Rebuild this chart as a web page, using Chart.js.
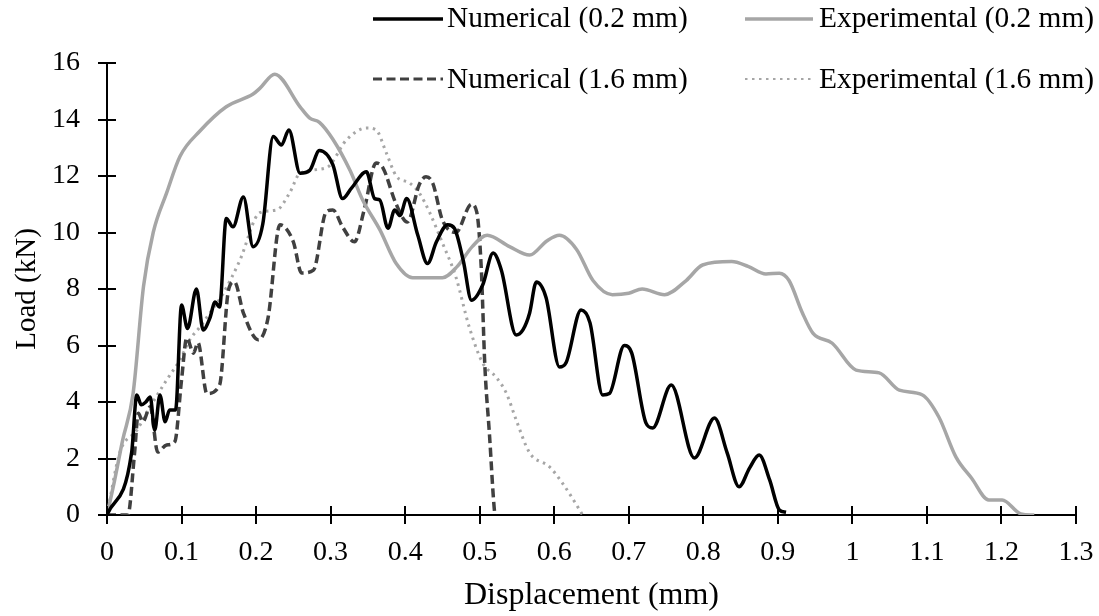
<!DOCTYPE html>
<html>
<head>
<meta charset="utf-8">
<script src="https://cdn.jsdelivr.net/npm/chart.js@4.4.1/dist/chart.umd.min.js"></script>
<style>
  html, body { margin: 0; padding: 0; background: #ffffff; }
  canvas { display: block; }
</style>
</head>
<body>
<canvas id="c" width="1099" height="616"></canvas>
<script>
// Load–displacement curves: numerical and experimental, for 0.2 mm and 1.6 mm
const seriesLabels = ['Numerical (0.2 mm)', 'Experimental (0.2 mm)', 'Numerical (1.6 mm)', 'Experimental (1.6 mm)'];

const numX02 = [0, 0.033, 0.04, 0.046, 0.052, 0.058, 0.064, 0.071, 0.078, 0.084, 0.092, 0.1, 0.108, 0.12, 0.129, 0.138, 0.145, 0.151, 0.16, 0.169, 0.183, 0.196, 0.209, 0.223, 0.234, 0.244, 0.259, 0.272, 0.285, 0.303, 0.316, 0.328, 0.348, 0.359, 0.366, 0.377, 0.386, 0.393, 0.402, 0.417, 0.43, 0.442, 0.457, 0.466, 0.478, 0.489, 0.504, 0.518, 0.529, 0.549, 0.558, 0.567, 0.576, 0.589, 0.607, 0.616, 0.636, 0.648, 0.665, 0.674, 0.694, 0.704, 0.723, 0.732, 0.757, 0.788, 0.815, 0.832, 0.848, 0.862, 0.875, 0.889, 0.902, 0.911];
const numY02 = [0, 2.2, 4.25, 3.9, 4.0, 4.18, 3.0, 4.25, 3.3, 3.72, 3.72, 7.43, 6.6, 8.0, 6.55, 6.97, 7.54, 7.36, 10.5, 10.2, 11.26, 9.5, 10.3, 13.4, 13.1, 13.63, 12.1, 12.2, 12.9, 12.4, 11.2, 11.57, 12.15, 11.2, 11.15, 10.15, 10.8, 10.6, 11.2, 9.9, 8.9, 9.67, 10.27, 10.15, 9.0, 7.6, 8.14, 9.27, 8.67, 6.37, 6.55, 7.15, 8.25, 7.7, 5.24, 5.4, 7.26, 6.8, 4.25, 4.3, 6.0, 5.73, 3.26, 3.08, 4.6, 2.02, 3.43, 2.2, 1.0, 1.66, 2.12, 1.24, 0.18, 0.1];

const expX02 = [0, 0.01, 0.021, 0.035, 0.049, 0.062, 0.08, 0.098, 0.125, 0.16, 0.196, 0.205, 0.225, 0.259, 0.272, 0.285, 0.303, 0.326, 0.343, 0.366, 0.388, 0.41, 0.45, 0.47, 0.49, 0.51, 0.54, 0.567, 0.59, 0.607, 0.63, 0.652, 0.678, 0.7, 0.718, 0.748, 0.777, 0.799, 0.838, 0.86, 0.884, 0.902, 0.915, 0.933, 0.947, 0.973, 1.005, 1.036, 1.063, 1.094, 1.116, 1.139, 1.16, 1.183, 1.201, 1.226, 1.244];
const expY02 = [0, 1.2, 2.65, 4.3, 8.1, 10.0, 11.4, 12.7, 13.6, 14.45, 14.9, 15.1, 15.6, 14.45, 14.05, 13.9, 13.3, 12.2, 11.15, 10.1, 8.9, 8.4, 8.4, 8.8, 9.5, 9.9, 9.5, 9.2, 9.7, 9.9, 9.4, 8.3, 7.8, 7.85, 8.0, 7.8, 8.3, 8.85, 8.97, 8.8, 8.53, 8.56, 8.3, 7.15, 6.44, 6.08, 5.13, 5.03, 4.42, 4.25, 3.47, 2.05, 1.3, 0.53, 0.53, 0.04, 0];

const numX16 = [0, 0.028, 0.037, 0.042, 0.048, 0.058, 0.068, 0.08, 0.091, 0.1, 0.107, 0.116, 0.122, 0.134, 0.151, 0.163, 0.171, 0.183, 0.203, 0.216, 0.232, 0.25, 0.261, 0.277, 0.294, 0.303, 0.316, 0.332, 0.345, 0.361, 0.37, 0.388, 0.403, 0.419, 0.428, 0.437, 0.45, 0.468, 0.489, 0.496, 0.502, 0.507, 0.513, 0.52, 0.521];
const numY16 = [0, 0, 2.2, 3.6, 3.3, 3.83, 2.23, 2.48, 2.6, 4.78, 6.27, 5.73, 6.1, 4.3, 4.6, 7.96, 8.25, 7.15, 6.2, 6.97, 10.27, 9.67, 8.57, 8.67, 10.73, 10.8, 10.2, 9.67, 10.8, 12.46, 12.3, 11.0, 10.37, 11.7, 11.97, 11.75, 10.44, 10.0, 11.0, 10.73, 8.8, 5.24, 2.9, 0.1, 0];

const expX16 = [0, 0.017, 0.04, 0.058, 0.08, 0.098, 0.111, 0.125, 0.138, 0.156, 0.178, 0.205, 0.228, 0.245, 0.259, 0.295, 0.321, 0.348, 0.361, 0.375, 0.388, 0.406, 0.419, 0.433, 0.45, 0.468, 0.486, 0.504, 0.522, 0.536, 0.549, 0.567, 0.594, 0.611, 0.634, 0.638];
const expY16 = [0, 2.2, 3.0, 3.83, 4.78, 5.5, 6.2, 6.67, 7.15, 7.85, 9.0, 10.7, 10.8, 11.4, 12.1, 12.3, 13.27, 13.7, 13.63, 12.8, 12.0, 11.75, 11.4, 10.7, 9.63, 8.43, 6.65, 5.38, 4.88, 4.3, 3.36, 2.2, 1.7, 1.13, 0.18, 0];

const xTickValues = [0, 0.1, 0.2, 0.3, 0.4, 0.5, 0.6, 0.7, 0.8, 0.9, 1, 1.1, 1.2, 1.3];
const yTickValues = [0, 2, 4, 6, 8, 10, 12, 14, 16];

const pairs = (xs, ys) => xs.map((x, i) => ({ x: x, y: ys[i] }));

const SERIF = '"Liberation Serif", "Times New Roman", serif';

// Inner half of the cross-style tick marks on both axes
const crossTicks = {
  id: 'crossTicks',
  afterDatasetsDraw(chart) {
    const { ctx, chartArea: a, scales: { x, y } } = chart;
    ctx.save();
    ctx.strokeStyle = '#000';
    ctx.lineWidth = 2;
    x.ticks.forEach(t => {
      const px = Math.round(x.getPixelForValue(t.value));
      ctx.beginPath(); ctx.moveTo(px, a.bottom); ctx.lineTo(px, a.bottom - 9); ctx.stroke();
    });
    y.ticks.forEach(t => {
      const py = Math.round(y.getPixelForValue(t.value));
      ctx.beginPath(); ctx.moveTo(a.left, py); ctx.lineTo(a.left + 9, py); ctx.stroke();
    });
    ctx.restore();
  }
};

// Two-column legend above the plot
const topLegend = {
  id: 'topLegend',
  afterDraw(chart) {
    const { ctx } = chart;
    const slots = [
      { ds: 0, x0: 373, x1: 443, tx: 447, ly: 19, by: 27 },
      { ds: 1, x0: 745, x1: 813, tx: 819, ly: 19, by: 27 },
      { ds: 2, x0: 373, x1: 443, tx: 447, ly: 79, by: 88 },
      { ds: 3, x0: 745, x1: 813, tx: 819, ly: 79, by: 88 }
    ];
    ctx.save();
    slots.forEach(s => {
      const d = chart.data.datasets[s.ds];
      ctx.strokeStyle = d.borderColor;
      ctx.lineWidth = d.legendWidth;
      ctx.setLineDash(d.borderDash || []);
      ctx.beginPath(); ctx.moveTo(s.x0, s.ly); ctx.lineTo(s.x1, s.ly); ctx.stroke();
      ctx.setLineDash([]);
      ctx.fillStyle = '#000';
      ctx.font = '29.4px ' + SERIF;
      ctx.textAlign = 'left';
      ctx.textBaseline = 'alphabetic';
      ctx.fillText(d.label, s.tx, s.by);
    });
    ctx.restore();
  }
};

const common = { pointRadius: 0, pointHoverRadius: 0, fill: false, cubicInterpolationMode: 'monotone', borderCapStyle: 'butt' };

new Chart(document.getElementById('c'), {
  type: 'line',
  data: {
    datasets: [
      Object.assign({ label: seriesLabels[0], data: pairs(numX02, numY02), borderColor: '#000000', borderWidth: 3.5, legendWidth: 3.5 }, common),
      Object.assign({ label: seriesLabels[1], data: pairs(expX02, expY02), borderColor: '#a6a6a6', borderWidth: 3.5, legendWidth: 3.5 }, common),
      Object.assign({ label: seriesLabels[2], data: pairs(numX16, numY16), borderColor: '#404040', borderWidth: 3.5, borderDash: [9, 4.5], legendWidth: 3 }, common),
      Object.assign({ label: seriesLabels[3], data: pairs(expX16, expY16), borderColor: '#a6a6a6', borderWidth: 3, borderDash: [2.5, 4.5], legendWidth: 2 }, common)
    ]
  },
  options: {
    responsive: false,
    animation: false,
    events: [],
    layout: { padding: { top: 63, right: 23, left: 0, bottom: 0 } },
    plugins: { legend: { display: false }, tooltip: { enabled: false } },
    scales: {
      x: {
        type: 'linear',
        min: 0, max: 1.3,
        afterFit: s => { s.height = 101; s.paddingLeft = 0; s.paddingRight = 0; },
        afterBuildTicks: s => { s.ticks = xTickValues.map(v => ({ value: v })); },
        ticks: {
          color: '#000', padding: 12, maxRotation: 0, autoSkip: false,
          font: { family: SERIF, size: 28 },
          callback: v => String(Math.round(v * 10) / 10)
        },
        grid: { display: true, drawOnChartArea: false, drawTicks: true, tickLength: 9, color: '#000', lineWidth: 2 },
        border: { display: true, color: '#000', width: 2 },
        title: { display: true, text: 'Displacement (mm)', color: '#000', font: { family: SERIF, size: 32 }, padding: { top: 0, bottom: 1 } }
      },
      y: {
        type: 'linear',
        min: 0, max: 16,
        afterFit: s => { s.width = 107; s.paddingTop = 0; s.paddingBottom = 0; },
        afterBuildTicks: s => { s.ticks = yTickValues.map(v => ({ value: v })); },
        ticks: {
          color: '#000', padding: 18, autoSkip: false,
          font: { family: SERIF, size: 28 },
          callback: v => String(v)
        },
        grid: { display: true, drawOnChartArea: false, drawTicks: true, tickLength: 9, color: '#000', lineWidth: 2 },
        border: { display: true, color: '#000', width: 2 },
        title: { display: true, text: 'Load (kN)', color: '#000', font: { family: SERIF, size: 29 }, padding: { top: 10, bottom: 0 } }
      }
    }
  },
  plugins: [crossTicks, topLegend]
});
</script>
</body>
</html>
